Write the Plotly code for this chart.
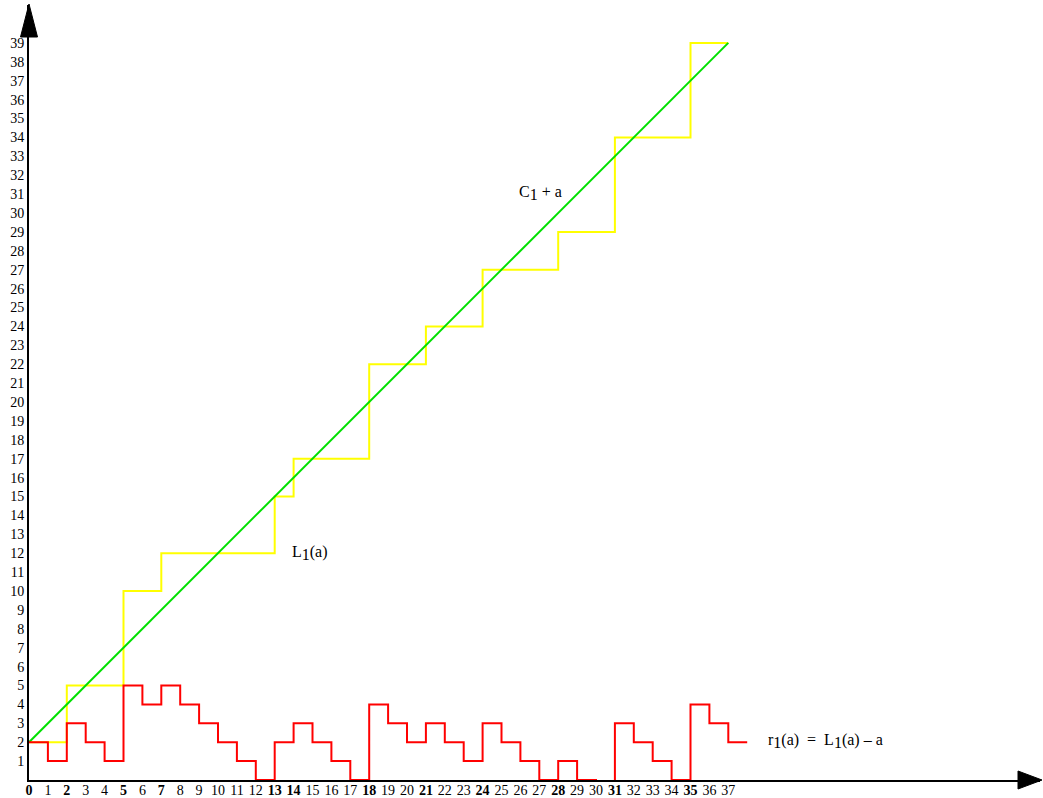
import plotly.graph_objects as go

# a = 0 .. 37
a_values = list(range(38))

# L1(a): step function
L1_values = [2, 2, 5, 5, 5, 10, 10, 12, 12, 12, 12, 12, 12, 15, 17, 17, 17, 17,
             22, 22, 22, 24, 24, 24, 27, 27, 27, 27, 29, 29, 29, 34, 34, 34, 34,
             39, 39, 39]

# r1(a) = L1(a) - a
r1_values = [2, 1, 3, 2, 1, 5, 4, 5, 4, 3, 2, 1, 0, 2, 3, 2, 1, 0,
             4, 3, 2, 3, 2, 1, 3, 2, 1, 0, 1, 0, -1, 3, 2, 1, 0,
             4, 3, 2]

# C1 + a, with C1 = 2
C1 = 2
line_a = [0, 37]

x_tick_vals = list(range(38))
bold_ticks = [0, 2, 5, 7, 13, 14, 18, 21, 24, 28, 31, 35]
y_tick_vals = list(range(1, 40))

# Geometry of the drawing area (pixels)
W, H = 1043, 798
L_PX, R_PX, T_PX, B_PX = 29, 1040, 5, 780
UNIT = 18.9
X_MAX = (R_PX - L_PX) / UNIT
Y_MAX = (B_PX - T_PX) / UNIT

FONT = "Liberation Serif, Times New Roman, serif"

fig = go.Figure()

fig.add_trace(go.Scatter(
    x=a_values, y=L1_values, mode="lines", line_shape="hv",
    line=dict(color="#ffff00", width=2), showlegend=False, hoverinfo="skip"))

fig.add_trace(go.Scatter(
    x=line_a, y=[C1 + v for v in line_a], mode="lines",
    line=dict(color="#00e000", width=2), showlegend=False, hoverinfo="skip"))

# red step extends one unit past the last a
fig.add_trace(go.Scatter(
    x=a_values + [a_values[-1] + 1], y=r1_values + [r1_values[-1]],
    mode="lines", line_shape="hv",
    line=dict(color="#ff0000", width=2), showlegend=False, hoverinfo="skip"))


def px_to_paper(px, py):
    return (px - L_PX) / (R_PX - L_PX), (B_PX - py) / (B_PX - T_PX)


def tri_path(points):
    pts = [px_to_paper(*p) for p in points]
    return "M " + " L ".join(f"{x},{y}" for x, y in pts) + " Z"


shapes = [
    # arrow heads on both axes
    dict(type="path", xref="paper", yref="paper",
         path=tri_path([(29, 4), (20.5, 37), (37.5, 37)]),
         fillcolor="black", line=dict(color="black", width=1)),
    dict(type="path", xref="paper", yref="paper",
         path=tri_path([(1042, 780), (1018, 771), (1018, 789)]),
         fillcolor="black", line=dict(color="black", width=1)),
]

LABEL_SIZE = 16
ann_font = dict(family=FONT, size=LABEL_SIZE, color="black")


def sub(s):
    # full-size lowered index
    return f"<sub><span style='font-size:{LABEL_SIZE}px'>{s}</span></sub>"


annotations = [
    dict(x=(540 - L_PX) / UNIT, y=(B_PX - 193) / UNIT,
         text=f"C{sub('1')} + a", showarrow=False, font=ann_font),
    dict(x=(310 - L_PX) / UNIT, y=(B_PX - 553) / UNIT,
         text=f"L{sub('1')}(a)", showarrow=False, font=ann_font),
    dict(x=(825 - L_PX) / UNIT, y=(B_PX - 741) / UNIT,
         text=f"r{sub('1')}(a)  =  L{sub('1')}(a) – a",
         showarrow=False, font=ann_font),
]

fig.update_layout(
    width=W, height=H,
    margin=dict(l=L_PX, r=W - R_PX, t=T_PX, b=H - B_PX, pad=0),
    paper_bgcolor="white", plot_bgcolor="white",
    font=dict(family=FONT, size=14, color="black"),
    shapes=shapes, annotations=annotations,
    xaxis=dict(
        range=[0, X_MAX], showgrid=False, zeroline=False, automargin=False,
        showline=True, linecolor="black", linewidth=2,
        tickmode="array", tickvals=x_tick_vals,
        ticktext=[f"<b>{v}</b>" if v in bold_ticks else str(v) for v in x_tick_vals],
        ticks="", ticklen=0, ticklabelstandoff=-4,
        tickfont=dict(family=FONT, size=14, color="black"),
    ),
    yaxis=dict(
        range=[0, Y_MAX], showgrid=False, zeroline=False, automargin=False,
        showline=True, linecolor="black", linewidth=2,
        tickmode="array", tickvals=y_tick_vals,
        ticktext=[str(v) for v in y_tick_vals],
        ticks="", ticklen=0,
        tickfont=dict(family=FONT, size=14, color="black"),
    ),
)

fig.write_html("out.html")
